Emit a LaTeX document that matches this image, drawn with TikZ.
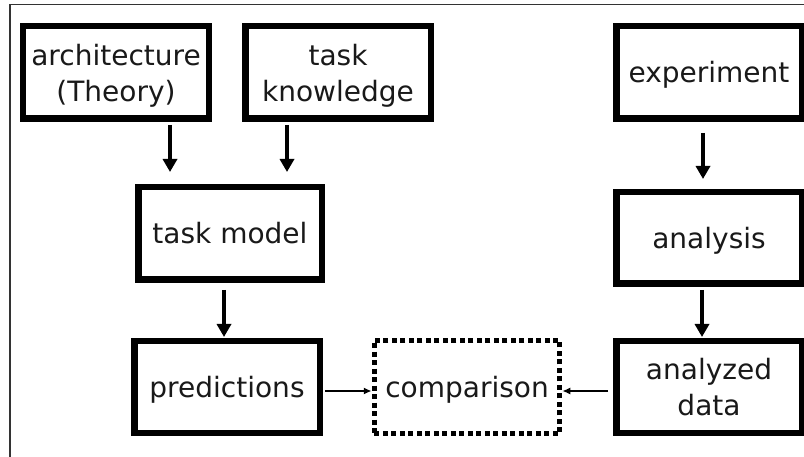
\documentclass[tikz,border=0pt]{standalone}
\usepackage{fontspec}
\setmainfont{DejaVu Sans}
\usetikzlibrary{arrows.meta}

\tikzset{
  stage/.style={draw=black, line width=6.5bp, rectangle, inner sep=0pt,
    font=\fontsize{28bp}{36bp}\selectfont, text=black!90, align=center},
  oneline/.style={text height=21bp, text depth=0bp},
  twoline/.style={text height=57.5bp, text depth=0bp},
  dottedbox/.style={draw=black, line width=5bp, dash pattern=on 5bp off 3.5bp,
    rectangle, inner sep=0pt, font=\fontsize{28bp}{36bp}\selectfont,
    text=black!90, text height=21bp, text depth=0bp},
  flow/.style={draw=black, line width=4bp, -{Triangle[width=14bp,length=13bp]}},
  link/.style={draw=black, line width=1.7bp, -{Latex[width=7bp,length=8bp]}},
  frame/.style={draw=black!80, line width=1.5bp}
}

\begin{document}
\begin{tikzpicture}[x=1bp, y=-1bp]
  % page area and the frame along the top and left edges
  \fill[white] (0,0) rectangle (804,457);
  \useasboundingbox (0,0) rectangle (804,457);
  \draw[frame] (10,457) -- (10,4.5) -- (804,4.5);

  % modelling side
  \node[stage, twoline, minimum width=185.5bp, minimum height=92.5bp] (arch) at (116,72.5) {architecture\\(Theory)};
  \node[stage, twoline, minimum width=185.5bp, minimum height=92.5bp] (know) at (338,72.5) {task\\knowledge};
  \node[stage, oneline, minimum width=183.5bp, minimum height=92.5bp] (model) at (230,233.5) {task model};
  \node[stage, oneline, minimum width=185.5bp, minimum height=91.5bp] (pred) at (227,387) {predictions};

  % empirical side
  \node[stage, oneline, minimum width=185.5bp, minimum height=92.5bp] (exp) at (709,72.5) {experiment};
  \node[stage, oneline, minimum width=185.5bp, minimum height=91.5bp] (anal) at (709,238) {analysis};
  \node[stage, twoline, minimum width=185.5bp, minimum height=91.5bp] (data) at (709,387) {analyzed\\data};

  % meeting point
  \node[dottedbox, minimum width=185.5bp, minimum height=93.5bp] (comp) at (467,387) {comparison};

  % thick flow arrows
  \draw[flow, shorten <=3bp, shorten >=12bp] (arch.south -| 170,0) -- (model.north -| 170,0);
  \draw[flow, shorten <=3bp, shorten >=12bp] (know.south -| 287,0) -- (model.north -| 287,0);
  \draw[flow, shorten <=7bp, shorten >=1bp] (model.south -| 224,0) -- (pred.north -| 224,0);
  \draw[flow, shorten <=11bp, shorten >=10bp] (exp.south -| 703,0) -- (anal.north -| 703,0);
  \draw[flow, shorten <=3bp, shorten >=1bp] (anal.south -| 702,0) -- (data.north -| 702,0);

  % thin arrows into the comparison
  \draw[link, shorten <=2bp] (pred.east |- 0,391) -- (comp.west |- 0,391);
  \draw[link, shorten <=5bp] (data.west |- 0,391) -- (comp.east |- 0,391);
\end{tikzpicture}
\end{document}
